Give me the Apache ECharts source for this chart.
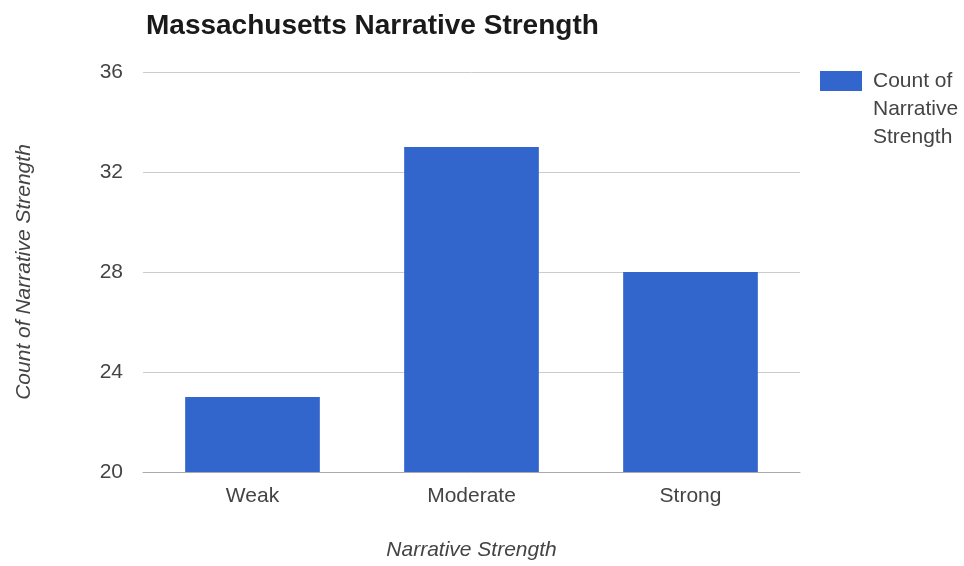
<!DOCTYPE html>
<html>
<head>
<meta charset="utf-8">
<script src="https://cdn.jsdelivr.net/npm/echarts@6/dist/echarts.min.js"></script>
<style>
html,body{margin:0;padding:0;background:#fff;}
#chart{width:964px;height:566px;}
</style>
</head>
<body>
<div id="chart"></div>
<script>
const categories = ['Weak', 'Moderate', 'Strong'];
const counts = [23, 33, 28];
const seriesName = 'Count of Narrative Strength';
const yMin = 20, yMax = 36, yInterval = 4;

const chart = echarts.init(document.getElementById('chart'), null, {renderer: 'canvas'});
const font = '"Liberation Sans", Arial, sans-serif';
chart.setOption({
  animation: false,
  backgroundColor: '#ffffff',
  title: {
    text: 'Massachusetts Narrative Strength',
    left: 146, top: 12, padding: 0,
    textStyle: {fontFamily: font, fontSize: 28, fontWeight: 'bold', color: '#1a1a1a'}
  },
  legend: {
    left: 820, top: 67, padding: 0,
    orient: 'vertical',
    itemWidth: 42, itemHeight: 84, itemGap: 10,
    icon: 'path://M0,0L0.01,0L0.01,0.01ZM0,4L42,4L42,24L0,24ZM0,84L0.01,84L0.01,83.99Z',
    data: [seriesName],
    formatter: () => 'Count of\nNarrative\nStrength',
    textStyle: {fontFamily: font, fontSize: 21, color: '#444', lineHeight: 28, padding: [0, 0, 0, 6]}
  },
  grid: {left: 143, right: 164, top: 72, bottom: 92, containLabel: false},
  xAxis: {
    type: 'category',
    data: categories,
    name: 'Narrative Strength',
    nameLocation: 'middle',
    nameGap: 68,
    nameTextStyle: {fontFamily: font, fontSize: 21, fontStyle: 'italic', color: '#444'},
    axisLine: {show: true, lineStyle: {color: '#aaaaaa', width: 1}},
    axisTick: {show: false},
    axisLabel: {fontFamily: font, fontSize: 21, color: '#444', margin: 14}
  },
  yAxis: {
    type: 'value',
    min: yMin, max: yMax, interval: yInterval,
    name: 'Count of Narrative Strength',
    nameLocation: 'middle',
    nameGap: 108,
    nameRotate: 90,
    nameTextStyle: {fontFamily: font, fontSize: 21, fontStyle: 'italic', color: '#444'},
    axisLine: {show: false},
    axisTick: {show: false},
    axisLabel: {fontFamily: font, fontSize: 21, color: '#444', margin: 20},
    splitLine: {show: true, lineStyle: {color: '#cccccc', width: 1}}
  },
  series: [{
    name: seriesName,
    type: 'bar',
    data: counts,
    barWidth: '61.5%',
    itemStyle: {color: '#3366cc'}
  }]
});
</script>
</body>
</html>
